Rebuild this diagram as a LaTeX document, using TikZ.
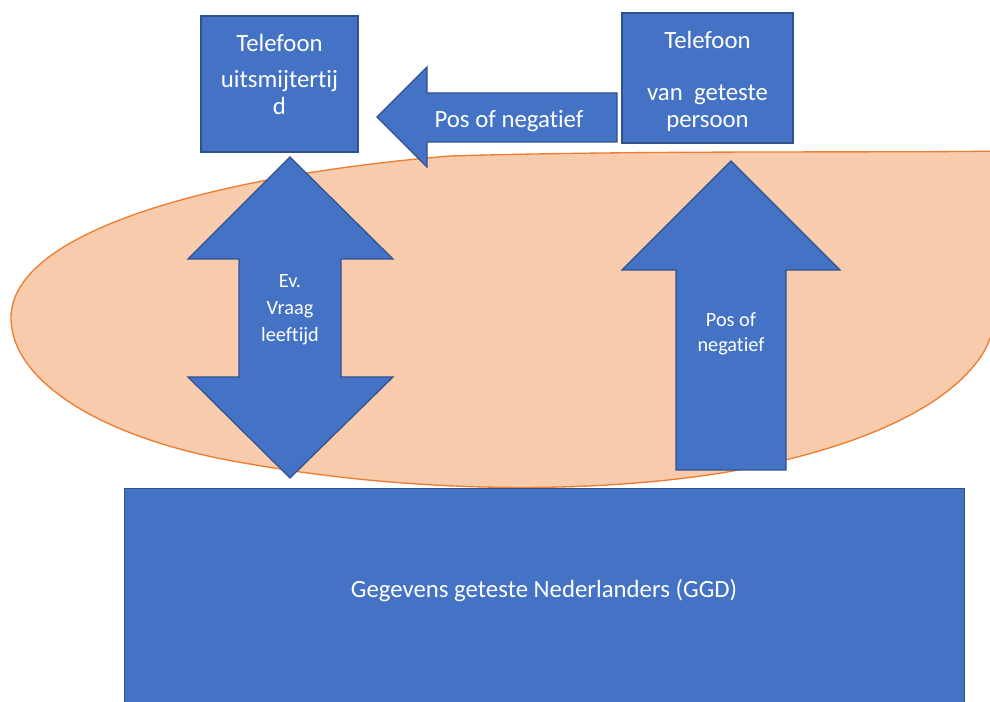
\documentclass[tikz,border=0pt]{standalone}
\usepackage{fontspec}
\setmainfont{Carlito}[RawFeature={-liga;-clig;-calt;-dlig;-rlig}]
\definecolor{blu}{HTML}{4472C4}
\definecolor{bluedge}{HTML}{2F528F}
\definecolor{peach}{HTML}{F8CBAD}
\definecolor{orng}{HTML}{ED7D31}
\tikzset{
  blockshape/.style={fill=blu, draw=bluedge, line width=0.9pt, line join=miter},
  bigtext/.style={text=white, font=\fontsize{18.6}{20.25}\selectfont, align=center, inner sep=0pt},
  smalltext/.style={text=white, font=\fontsize{15.2}{20.25}\selectfont, align=center, inner sep=0pt},
  boxnode/.style={blockshape, rectangle, inner sep=0pt},
}
\begin{document}
\begin{tikzpicture}[x=0.75pt, y=-0.75pt]
\useasboundingbox (0,0) rectangle (990,702);
\clip (0,0) rectangle (990,702);
% background ellipse-like region
\draw[fill=peach, draw=orng, line width=1pt]
  (11,318) .. controls (11,230) and (220,175) .. (450,156)
  .. controls (650,150) and (900,153) .. (1000,151)
  -- (1012,151) .. controls (1012,260) and (1000,320) .. (985,350)
  .. controls (950,410) and (850,450) .. (733,471)
  .. controls (600,494) and (420,494) .. (250,464)
  .. controls (100,440) and (11,380) .. (11,318) -- cycle;
% boxes
\node[boxnode, minimum width=157*0.75pt, minimum height=136*0.75pt] (tel1) at (279.5,84) {};
\node[boxnode, minimum width=171*0.75pt, minimum height=130*0.75pt] (tel2) at (707.5,78) {};
\node[boxnode, minimum width=840*0.75pt, minimum height=220*0.75pt, anchor=north west] (ggd) at (124,488) {};
% block arrows
\draw[blockshape] (377,117) -- (427,67) -- (427,93) -- (617,93) -- (617,142) -- (427,142) -- (427,167) -- cycle;
\draw[blockshape] (290,157) -- (393,259) -- (341,259) -- (341,377) -- (393,377) -- (290,478)
  -- (188,377) -- (239,377) -- (239,259) -- (188,259) -- cycle;
\draw[blockshape] (731,161) -- (840,270) -- (786,270) -- (786,470) -- (676,470) -- (676,270) -- (622,270) -- cycle;
% texts (anchor=base is the baseline of the last line)
\node[bigtext, anchor=base] (t1) at (279.5,115) {Telefoon\\[6.75pt]uitsmijtertij\\d};
\node[bigtext, anchor=base] (t2) at (707.5,128) {Telefoon\\[18.75pt]van\ \ geteste\\persoon};
\node[bigtext, anchor=base] (t3) at (509,128) {Pos of negatief};
\node[smalltext, anchor=base] (t4) at (290,342) {Ev.\\Vraag\\leeftijd};
\node[smalltext, anchor=base, font=\fontsize{15.2}{19}\selectfont] (t5) at (731,352) {Pos of\\negatief};
\node[bigtext, anchor=base] (t6) at (544,597) {Gegevens geteste Nederlanders (GGD)};
\end{tikzpicture}
\end{document}
